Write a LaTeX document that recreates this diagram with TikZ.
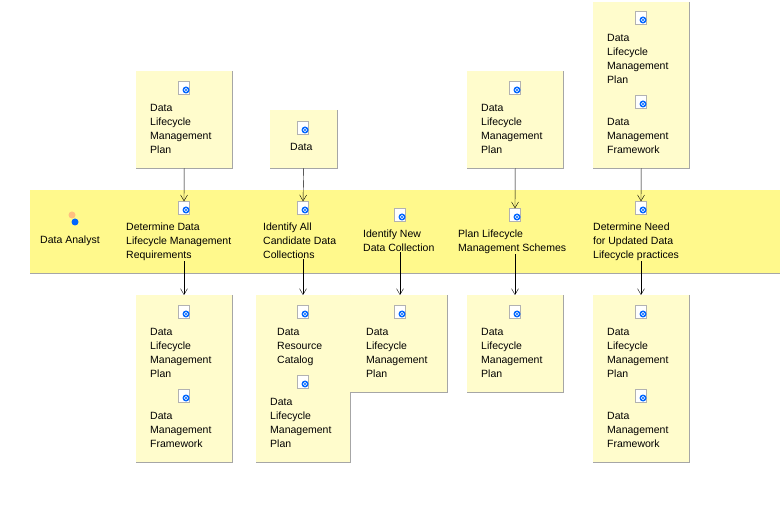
\documentclass[tikz,border=0pt]{standalone}
\usepackage{fontspec}
\setmainfont{Liberation Sans}
\usetikzlibrary{arrows.meta}
\tikzset{
  box/.style={draw=none, fill=yellow!20, anchor=north west, inner sep=0pt},
  shad/.style={draw=gray!70, line width=1pt},
  txt/.style={anchor=north west, inner sep=0pt, align=left, font=\fontsize{10.5}{14}\selectfont},
  icon/.style={minimum width=11pt, minimum height=13pt, inner sep=0pt, draw=gray!60, fill=white},
  arr/.style={-{Straight Barb[length=6pt,width=7pt]}, black}
}
\newcommand{\docbox}[5]{% name, x, y, w, h
  \node[box, minimum width=#4pt, minimum height=#5pt] (#1) at (#2,#3) {};
  \draw[shad] (#1.north east) -- (#1.south east) -- (#1.south west);
}
\newcommand{\docicon}[3]{% name, x, y
  \node[icon] (#1) at (#2,#3) {};
  \fill[blue!60!cyan] ([shift={(2pt,-2pt)}]#1.center) circle (3.5pt);
  \draw[white, line width=0.6pt] ([shift={(2pt,-2pt)}]#1.center) circle (1.8pt);
}
\begin{document}
\begin{tikzpicture}[x=1pt, y=-1pt]
\useasboundingbox (0,0) rectangle (780,505);
% lane
\fill[yellow!45!white] (30,190) rectangle (780,273);
\draw[gray!70] (30,273) -- (780,273);
\node[icon, draw=none, fill=none] (actor) at (72,219) {};
\fill[orange!50] (72,215) circle (3.5pt);
\fill[blue!60!cyan] (75,222) circle (3.5pt);
\node[txt] (analyst) at (40,236) {Data Analyst};
% tasks
\docicon{t1}{184}{208}
\docicon{t2}{303}{208}
\docicon{t3}{400}{215}
\docicon{t4}{515}{215}
\docicon{t5}{641}{208}
\node[txt] (l1) at (126,223) {Determine Data\\Lifecycle Management\\Requirements};
\node[txt] (l2) at (263,223) {Identify All\\Candidate Data\\Collections};
\node[txt] (l3) at (363,230) {Identify New\\Data Collection};
\node[txt] (l4) at (458,230) {Plan Lifecycle\\Management Schemes};
\node[txt] (l5) at (593,223) {Determine Need\\for Updated Data\\Lifecycle practices};
% inputs
\docbox{bA}{136}{71}{96}{97}
\docicon{iA}{184}{88}
\node[txt] at (150,104) {Data\\Lifecycle\\Management\\Plan};
\docbox{bB}{270}{110}{67}{58}
\docicon{iB}{303}{128}
\node[txt] at (290,143) {Data};
\docbox{bC}{467}{71}{96}{97}
\docicon{iC}{515}{88}
\node[txt] at (481,104) {Data\\Lifecycle\\Management\\Plan};
\docbox{bD}{593}{2}{96}{166}
\docicon{iD}{641}{18}
\node[txt] at (607,34) {Data\\Lifecycle\\Management\\Plan};
\docicon{iD2}{641}{102}
\node[txt] at (607,118) {Data\\Management\\Framework};
% outputs
\docbox{bE}{136}{295}{96}{167}
\docicon{oE}{184}{312}
\node[txt] at (150,328) {Data\\Lifecycle\\Management\\Plan};
\docicon{oE2}{184}{396}
\node[txt] at (150,412) {Data\\Management\\Framework};
\docbox{bF}{256}{295}{94}{167}
\docicon{oF}{303}{312}
\node[txt] at (277,328) {Data\\Resource\\Catalog};
\docicon{oF2}{303}{382}
\node[txt] at (270,398) {Data\\Lifecycle\\Management\\Plan};
\docbox{bG}{350}{295}{97}{97}
\docicon{oG}{400}{312}
\node[txt] at (366,328) {Data\\Lifecycle\\Management\\Plan};
\docbox{bH}{467}{295}{96}{97}
\docicon{oH}{515}{312}
\node[txt] at (481,328) {Data\\Lifecycle\\Management\\Plan};
\docbox{bI}{593}{295}{96}{167}
\docicon{oI}{641}{312}
\node[txt] at (607,328) {Data\\Lifecycle\\Management\\Plan};
\docicon{oI2}{641}{396}
\node[txt] at (607,412) {Data\\Management\\Framework};
% flows
\draw[arr] (bA.south) -- (t1.north);
\draw[arr] (bB.south) -- (t2.north);
\draw[arr] (bC.south) -- (t4.north);
\draw[arr] (bD.south) -- (t5.north);
\draw[arr] (l1.south -| oE) -- (bE.north -| oE);
\draw[arr] (l2.south -| oF) -- (bF.north -| oF);
\draw[arr] (l3.south -| oG) -- (bG.north -| oG);
\draw[arr] (l4.south -| oH) -- (bH.north -| oH);
\draw[arr] (l5.south -| oI) -- (bI.north -| oI);
\end{tikzpicture}
\end{document}
